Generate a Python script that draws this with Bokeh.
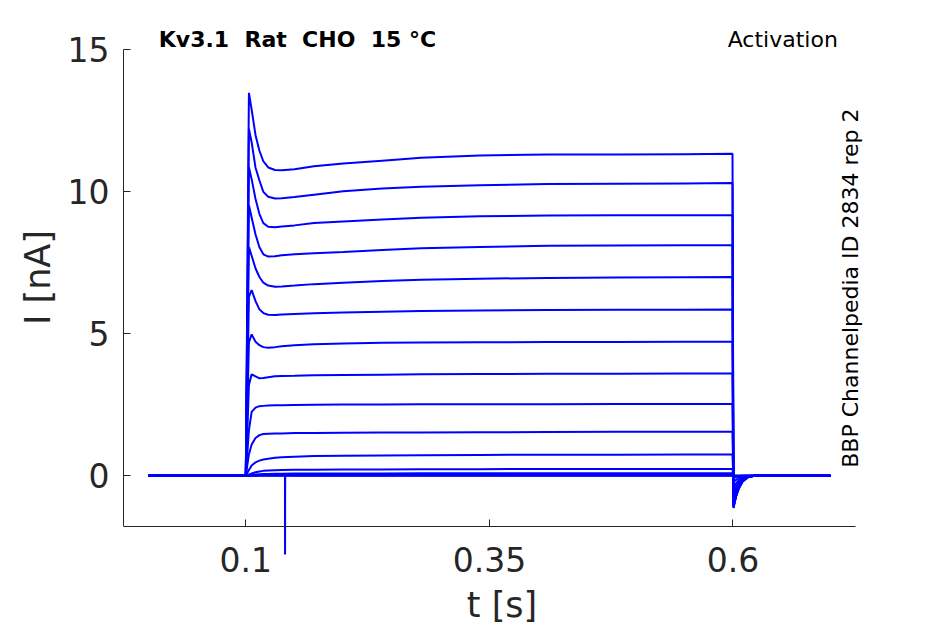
import math
from bokeh.plotting import figure
from bokeh.models import Range1d, FixedTicker, Label, ColumnDataSource, LinearAxis
from bokeh.embed import file_html
from bokeh.resources import INLINE

# time points [s]
t_s = [0.0, 0.1, 0.1032, 0.106, 0.110, 0.114, 0.118, 0.123, 0.130, 0.137, 0.150, 0.170,
       0.200, 0.240, 0.280, 0.340, 0.410, 0.480, 0.550, 0.5995, 0.6005, 0.603, 0.606,
       0.610, 0.615, 0.622, 0.700]

# currents [nA], one list per voltage step
trace_01 = [0, 0, 13.49, 12.9, 12.0, 11.45, 11.08, 10.86, 10.77, 10.76, 10.8, 10.9, 11.0, 11.1, 11.2, 11.28, 11.32, 11.32, 11.33, 11.34, -1.14, -0.75, -0.45, -0.2, -0.06, 0.0, 0.0]
trace_02 = [0, 0, 12.22, 11.75, 10.85, 10.4, 10.0, 9.83, 9.77, 9.78, 9.82, 9.9, 10.02, 10.12, 10.18, 10.23, 10.28, 10.29, 10.3, 10.31, -1.12, -0.74, -0.44, -0.2, -0.06, 0.0, 0.0]
trace_03 = [0, 0, 10.87, 10.45, 9.75, 9.22, 8.9, 8.77, 8.75, 8.78, 8.82, 8.9, 8.96, 9.03, 9.09, 9.14, 9.17, 9.18, 9.18, 9.18, -1.10, -0.73, -0.43, -0.19, -0.06, 0.0, 0.0]
trace_04 = [0, 0, 9.53, 9.1, 8.5, 8.05, 7.8, 7.72, 7.73, 7.77, 7.8, 7.84, 7.88, 7.95, 8.01, 8.06, 8.1, 8.11, 8.12, 8.12, -1.07, -0.71, -0.42, -0.18, -0.05, 0.0, 0.0]
trace_05 = [0, 0, 8.06, 7.75, 7.3, 7.0, 6.8, 6.7, 6.66, 6.67, 6.7, 6.75, 6.8, 6.86, 6.9, 6.94, 6.97, 6.98, 6.99, 7.0, -1.03, -0.69, -0.40, -0.17, -0.05, 0.0, 0.0]
trace_06 = [0, 0, 6.3, 6.54, 6.15, 5.86, 5.73, 5.67, 5.66, 5.68, 5.7, 5.72, 5.75, 5.78, 5.8, 5.82, 5.84, 5.85, 5.85, 5.86, -0.97, -0.65, -0.38, -0.16, -0.05, 0.0, 0.0]
trace_07 = [0, 0, 4.7, 4.98, 4.72, 4.6, 4.53, 4.51, 4.53, 4.56, 4.6, 4.63, 4.66, 4.68, 4.69, 4.7, 4.71, 4.71, 4.72, 4.72, -0.88, -0.58, -0.34, -0.15, -0.04, 0.0, 0.0]
trace_08 = [0, 0, 3.2, 3.57, 3.5, 3.43, 3.44, 3.47, 3.5, 3.51, 3.52, 3.54, 3.55, 3.56, 3.57, 3.58, 3.59, 3.59, 3.6, 3.6, -0.75, -0.5, -0.29, -0.12, -0.03, 0.0, 0.0]
trace_09 = [0, 0, 1.6, 2.25, 2.4, 2.45, 2.46, 2.47, 2.48, 2.48, 2.49, 2.5, 2.51, 2.51, 2.52, 2.52, 2.52, 2.53, 2.53, 2.53, -0.6, -0.4, -0.23, -0.1, -0.03, 0.0, 0.0]
trace_10 = [0, 0, 0.75, 1.1, 1.33, 1.43, 1.47, 1.48, 1.49, 1.49, 1.5, 1.5, 1.51, 1.52, 1.52, 1.53, 1.54, 1.55, 1.55, 1.55, -0.42, -0.28, -0.16, -0.07, -0.02, 0.0, 0.0]
trace_11 = [0, 0, 0.2, 0.36, 0.47, 0.53, 0.57, 0.6, 0.63, 0.65, 0.67, 0.69, 0.7, 0.71, 0.72, 0.73, 0.74, 0.74, 0.75, 0.75, -0.22, -0.15, -0.08, -0.03, -0.01, 0.0, 0.0]
trace_12 = [0, 0, 0.04, 0.08, 0.12, 0.15, 0.17, 0.18, 0.19, 0.2, 0.21, 0.21, 0.22, 0.22, 0.23, 0.23, 0.24, 0.24, 0.24, 0.24, -0.08, -0.05, -0.03, -0.01, 0.0, 0.0, 0.0]
trace_13 = [0, 0, 0.01, 0.02, 0.04, 0.05, 0.06, 0.06, 0.07, 0.07, 0.08, 0.08, 0.08, 0.08, 0.09, 0.09, 0.09, 0.09, 0.09, 0.09, -0.03, -0.02, -0.01, 0.0, 0.0, 0.0, 0.0]
trace_14 = [0, 0, 0.0, 0.01, 0.01, 0.02, 0.02, 0.02, 0.02, 0.03, 0.03, 0.03, 0.03, 0.03, 0.03, 0.03, 0.03, 0.03, 0.03, 0.03, -0.01, 0.0, 0.0, 0.0, 0.0, 0.0, 0.0]
trace_15 = [0, 0, 0.0, 0.0, 0.0, 0.01, 0.01, 0.01, 0.01, 0.01, 0.01, 0.01, 0.01, 0.01, 0.01, 0.01, 0.01, 0.01, 0.01, 0.01, 0.0, 0.0, 0.0, 0.0, 0.0, 0.0, 0.0]
trace_16 = [0, 0, 0.0, 0.0, 0.0, 0.0, 0.0, 0.0, 0.0, 0.0, 0.0, 0.0, 0.0, 0.0, 0.0, 0.0, 0.0, 0.0, 0.0, 0.0, 0.0, 0.0, 0.0, 0.0, 0.0, 0.0, 0.0]

# artifact spike
spike_t = [0.1402, 0.1403, 0.1404]
spike_i = [0.0, -2.81, 0.0]

x_ticks = [0.1, 0.35, 0.6]
x_tick_labels = ["0.1", "0.35", "0.6"]
y_ticks = [0, 5, 10, 15]

title_text = "Kv3.1\u00a0 Rat\u00a0 CHO\u00a0 15 °C"
protocol_text = "Activation"
source_text = "BBP Channelpedia ID 2834 rep 2"

traces = [trace_01, trace_02, trace_03, trace_04, trace_05, trace_06, trace_07, trace_08,
          trace_09, trace_10, trace_11, trace_12, trace_13, trace_14, trace_15, trace_16]

AX = "#262626"
BLUE = "#0000ff"
FONT = "DejaVu Sans"

p = figure(frame_width=757, frame_height=554,
           x_range=Range1d(-0.02551, 0.75138), y_range=Range1d(-2.777, 16.744),
           output_backend="svg", toolbar_location=None,
           min_border_left=123, min_border_right=50, min_border_top=0, min_border_bottom=0)
p.title.text = ""
p.xgrid.visible = False
p.ygrid.visible = False
p.outline_line_color = None
p.background_fill_color = "white"
p.border_fill_color = "white"

for tr in traces:
    src = ColumnDataSource(dict(t=t_s, i=tr))
    p.line("t", "i", source=src, line_color=BLUE, line_width=2)
p.line(spike_t, spike_i, line_color=BLUE, line_width=2)

# y axis
ya = p.yaxis[0]
ya.ticker = FixedTicker(ticks=y_ticks)
ya.bounds = (-1.8, 15)
ya.axis_line_color = AX
ya.major_tick_line_color = AX
ya.major_tick_in = 7
ya.major_tick_out = 0
ya.minor_tick_line_color = None
ya.major_label_text_font = FONT
ya.major_label_text_font_size = "33px"
ya.major_label_text_color = AX
ya.major_label_standoff = 14
ya.axis_label = "I [nA]"
ya.axis_label_text_font = FONT
ya.axis_label_text_font_size = "35px"
ya.axis_label_text_font_style = "normal"
ya.axis_label_text_color = AX
ya.axis_label_standoff = 7

# x axis: tick labels and axis title (line/ticks drawn by the crossing axis below)
xa = p.xaxis[0]
xa.ticker = FixedTicker(ticks=x_ticks)
xa.major_label_overrides = {k: v for k, v in zip(x_ticks, x_tick_labels)}
xa.axis_line_color = None
xa.major_tick_line_color = None
xa.minor_tick_line_color = None
xa.major_tick_out = 0
xa.major_tick_in = 0
xa.major_label_text_font = FONT
xa.major_label_text_font_size = "33px"
xa.major_label_text_color = AX
xa.major_label_standoff = -8
xa.axis_label = "t [s]"
xa.axis_label_text_font = FONT
xa.axis_label_text_font_size = "35px"
xa.axis_label_text_font_style = "normal"
xa.axis_label_text_color = AX
xa.axis_label_standoff = 10

# x axis line with inward ticks at I = -1.8 nA
xb = LinearAxis(fixed_location=-1.8, ticker=FixedTicker(ticks=x_ticks), bounds=(-0.0255, 0.7258),
                axis_line_color=AX, major_tick_line_color=AX, major_tick_in=7, major_tick_out=0,
                minor_tick_line_color=None, major_label_text_font_size="0px", major_label_standoff=0,
                major_label_overrides={k: "" for k in x_ticks})
p.add_layout(xb, "below")

p.add_layout(Label(x=0.0107, y=15.36, text=title_text, text_align="left", text_baseline="alphabetic",
                   text_font=FONT, text_font_size="22px", text_font_style="bold", text_color="black"))
p.add_layout(Label(x=0.7076, y=15.38, text=protocol_text, text_align="right", text_baseline="alphabetic",
                   text_font=FONT, text_font_size="22px", text_color="black"))
p.add_layout(Label(x=0.7209, y=6.61, text=source_text, text_align="center", text_baseline="alphabetic",
                   angle=math.pi / 2, text_font=FONT, text_font_size="22px", text_color="black"))

open("out.html", "w").write(file_html(p, INLINE))
